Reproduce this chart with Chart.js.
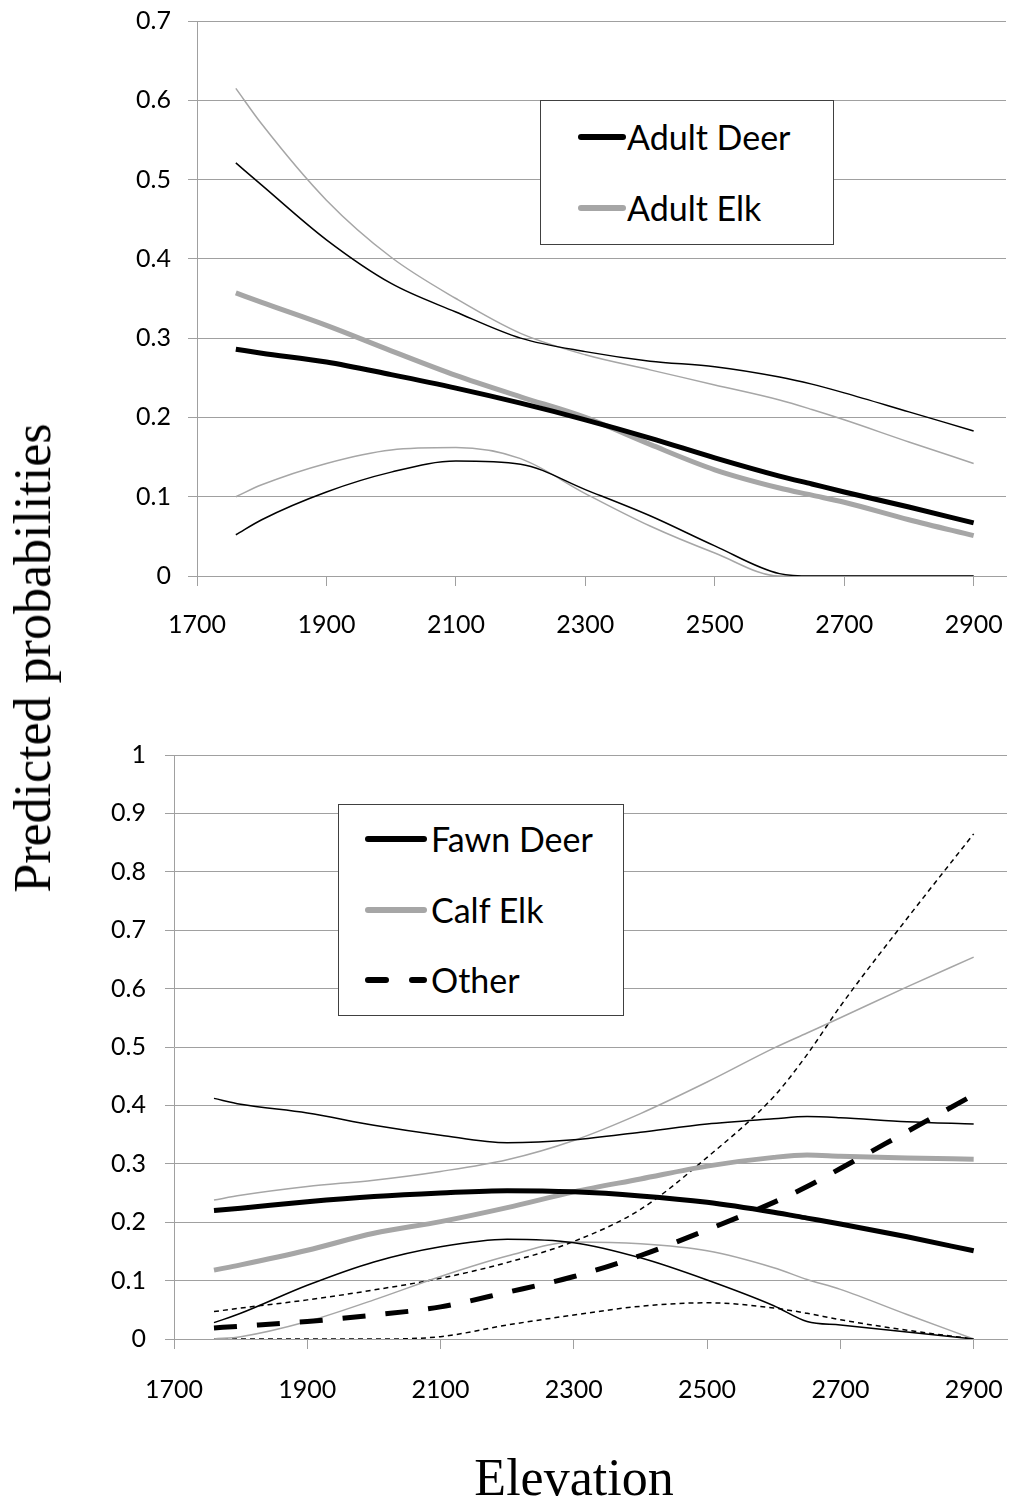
<!DOCTYPE html>
<html>
<head>
<meta charset="utf-8">
<title>Predicted probabilities by elevation</title>
<script src="https://cdn.jsdelivr.net/npm/chart.js@4.4.1/dist/chart.umd.min.js"></script>
<style>
  html, body { margin: 0; padding: 0; background: #fff; }
  body { position: relative; width: 1009px; height: 1502px; overflow: hidden; font-family: Lato, "Open Sans", sans-serif; }
  canvas { position: absolute; left: 0; }
  .legend-box { position: absolute; border: 1px solid #404040; background: #fff; box-sizing: border-box; }
  .legend-row { position: absolute; height: 40px; line-height: 40px; font-size: 34px; color: #000; white-space: nowrap; }
  .legend-row svg { position: absolute; top: 15px; overflow: visible; }
  .axis-title { position: absolute; font-family: "Liberation Serif", "Times New Roman", serif; font-size: 52px; line-height: 52px; white-space: nowrap; color: #000; }
</style>
</head>
<body>
<canvas id="topChart" width="1009" height="680" style="top:0"></canvas>
<canvas id="bottomChart" width="1009" height="740" style="top:700px"></canvas>
<div class="axis-title" id="yTitle" style="left:33px; top:658px; transform: translate(-50%, -50%) rotate(-90deg);">Predicted probabilities</div>
<div class="axis-title" id="xTitle" style="left:574px; top:1452px; transform: translateX(-50%);">Elevation</div>

<script>
// elevation values shared by every curve
const ELEVATION = [1760, 1800, 1900, 2000, 2100, 2200, 2300, 2400, 2500, 2600, 2650, 2700, 2800, 2900];
const X_TICKS = [1700, 1900, 2100, 2300, 2500, 2700, 2900];
const Y_TICKS_TOP = [0, 0.1, 0.2, 0.3, 0.4, 0.5, 0.6, 0.7];
const Y_TICKS_BOTTOM = [0, 0.1, 0.2, 0.3, 0.4, 0.5, 0.6, 0.7, 0.8, 0.9, 1];

// adults
const adultDeer   = [0.286, 0.281, 0.270, 0.254, 0.237, 0.218, 0.197, 0.174, 0.149, 0.126, 0.116, 0.106, 0.087, 0.067];
const adultDeerHi = [0.521, 0.493, 0.424, 0.369, 0.333, 0.300, 0.283, 0.271, 0.264, 0.251, 0.242, 0.231, 0.207, 0.183];
const adultDeerLo = [0.052, 0.071, 0.106, 0.131, 0.145, 0.141, 0.109, 0.076, 0.038, 0.003, 0, 0, 0, 0];
const adultElk    = [0.357, 0.345, 0.316, 0.284, 0.253, 0.226, 0.200, 0.166, 0.134, 0.111, 0.102, 0.093, 0.071, 0.051];
const adultElkHi  = [0.615, 0.570, 0.474, 0.402, 0.350, 0.306, 0.279, 0.260, 0.241, 0.222, 0.210, 0.197, 0.169, 0.142];
const adultElkLo  = [0.100, 0.115, 0.142, 0.159, 0.162, 0.148, 0.104, 0.063, 0.029, 0, 0, 0, 0, 0];

// young + other
const fawnDeer   = [0.220, 0.224, 0.235, 0.244, 0.250, 0.254, 0.252, 0.245, 0.234, 0.217, 0.207, 0.197, 0.175, 0.151];
const fawnDeerHi = [0.412, 0.402, 0.387, 0.366, 0.349, 0.336, 0.341, 0.354, 0.368, 0.377, 0.381, 0.379, 0.372, 0.368];
const fawnDeerLo = [0.028, 0.044, 0.092, 0.132, 0.158, 0.171, 0.165, 0.139, 0.101, 0.057, 0.030, 0.024, 0.012, 0];
const calfElk    = [0.118, 0.127, 0.152, 0.181, 0.201, 0.225, 0.252, 0.274, 0.296, 0.311, 0.315, 0.313, 0.310, 0.308];
const calfElkHi  = [0.238, 0.246, 0.261, 0.272, 0.287, 0.307, 0.340, 0.386, 0.440, 0.498, 0.524, 0.550, 0.603, 0.654];
const calfElkLo  = [0, 0.004, 0.030, 0.067, 0.107, 0.142, 0.166, 0.163, 0.151, 0.122, 0.102, 0.085, 0.042, 0];
const other      = [0.019, 0.022, 0.030, 0.041, 0.055, 0.080, 0.107, 0.143, 0.187, 0.234, 0.261, 0.292, 0.355, 0.418];
const otherHi    = [0.047, 0.053, 0.067, 0.084, 0.104, 0.131, 0.167, 0.222, 0.311, 0.415, 0.487, 0.570, 0.720, 0.865];
const otherLo    = [0, 0, 0, 0, 0.004, 0.024, 0.041, 0.056, 0.062, 0.053, 0.044, 0.033, 0.015, 0];

const BLACK = "#000000";
const GRAY = "#a6a6a6";
const GRID = "#a0a0a0";
const THICK = 5;
const THIN = 1.5;
const DASH_THICK = [23, 20];
const DASH_THIN = [5, 4];

function line(label, values, color, width, dash) {
  return {
    label,
    data: ELEVATION.map((x, i) => ({ x, y: values[i] })),
    borderColor: color,
    borderWidth: width,
    borderDash: dash || [],
    borderCapStyle: "butt",
    pointRadius: 0,
    fill: false,
    cubicInterpolationMode: "monotone"
  };
}

function makeChart(id, datasets, yTicks, box) {
  const tickFont = { family: "Lato", size: 25 };
  return new Chart(document.getElementById(id), {
    type: "line",
    data: { datasets },
    options: {
      responsive: false,
      animation: false,
      devicePixelRatio: 1,
      layout: { padding: { top: box.top, right: box.right, left: 0, bottom: 0 } },
      plugins: { legend: { display: false }, tooltip: { enabled: false } },
      scales: {
        x: {
          type: "linear",
          min: 1700,
          max: 2950,
          afterBuildTicks: (s) => { s.ticks = X_TICKS.map((v) => ({ value: v })); },
          afterFit: (s) => { s.height = box.xHeight; s.paddingLeft = 0; s.paddingRight = 0; },
          grid: { drawOnChartArea: false, drawTicks: true, tickLength: 10, color: GRID },
          border: { display: true, color: GRID },
          ticks: { autoSkip: false, maxRotation: 0, padding: box.xPad, color: BLACK, font: tickFont, callback: (v) => String(v) }
        },
        y: {
          type: "linear",
          min: yTicks[0],
          max: yTicks[yTicks.length - 1],
          afterBuildTicks: (s) => { s.ticks = yTicks.map((v) => ({ value: v })); },
          afterFit: (s) => { s.width = box.yWidth; s.paddingTop = 0; s.paddingBottom = 0; },
          grid: { color: GRID, tickLength: 9 },
          border: { display: true, color: GRID },
          ticks: { padding: box.yPad, color: BLACK, font: tickFont, callback: (v) => String(v) }
        }
      }
    }
  });
}

makeChart("topChart", [
  line("Adult Deer", adultDeer, BLACK, THICK),
  line("Adult Elk", adultElk, GRAY, THICK),
  line("Adult Deer upper", adultDeerHi, BLACK, THIN),
  line("Adult Deer lower", adultDeerLo, BLACK, THIN),
  line("Adult Elk upper", adultElkHi, GRAY, THIN),
  line("Adult Elk lower", adultElkLo, GRAY, THIN)
], Y_TICKS_TOP, { top: 21, right: 3, xHeight: 104, yWidth: 197, xPad: 24, yPad: 17 });

makeChart("bottomChart", [
  line("Fawn Deer", fawnDeer, BLACK, THICK),
  line("Calf Elk", calfElk, GRAY, THICK),
  line("Other", other, BLACK, THICK, DASH_THICK),
  line("Fawn Deer upper", fawnDeerHi, BLACK, THIN),
  line("Fawn Deer lower", fawnDeerLo, BLACK, THIN),
  line("Calf Elk upper", calfElkHi, GRAY, THIN),
  line("Calf Elk lower", calfElkLo, GRAY, THIN),
  line("Other upper", otherHi, BLACK, THIN, DASH_THIN),
  line("Other lower", otherLo, BLACK, THIN, DASH_THIN)
], Y_TICKS_BOTTOM, { top: 55, right: 2, xHeight: 101, yWidth: 174, xPad: 26, yPad: 19 });

// legend boxes drawn as html over the plot area
function legend(box, entries, sample) {
  const el = document.createElement("div");
  el.className = "legend-box";
  Object.assign(el.style, { left: box.x + "px", top: box.y + "px", width: box.w + "px", height: box.h + "px" });
  document.body.appendChild(el);
  entries.forEach(([label, color, dash], i) => {
    const row = document.createElement("div");
    row.className = "legend-row";
    const cy = sample.rows[i];
    Object.assign(row.style, { left: sample.x + "px", top: (cy - 20) + "px", paddingLeft: sample.textX - sample.x + "px" });
    const dashAttr = dash ? ` stroke-dasharray="${dash.join(" ")}"` : "";
    row.innerHTML =
      `<svg width="${sample.len}" height="10" style="left:0">` +
      `<line x1="2" y1="5" x2="${sample.len - 2}" y2="5" stroke="${color}" stroke-width="6" stroke-linecap="round"${dashAttr}/></svg>` +
      `<span>${label}</span>`;
    document.body.appendChild(row);
  });
}

legend({ x: 540, y: 100, w: 294, h: 145 },
  [["Adult Deer", BLACK], ["Adult Elk", GRAY]],
  { x: 579, len: 46, textX: 627, rows: [137, 208] });

legend({ x: 338, y: 804, w: 286, h: 212 },
  [["Fawn Deer", BLACK], ["Calf Elk", GRAY], ["Other", BLACK, [18, 26]]],
  { x: 366, len: 60, textX: 431, rows: [839, 910, 980] });
</script>
</body>
</html>
